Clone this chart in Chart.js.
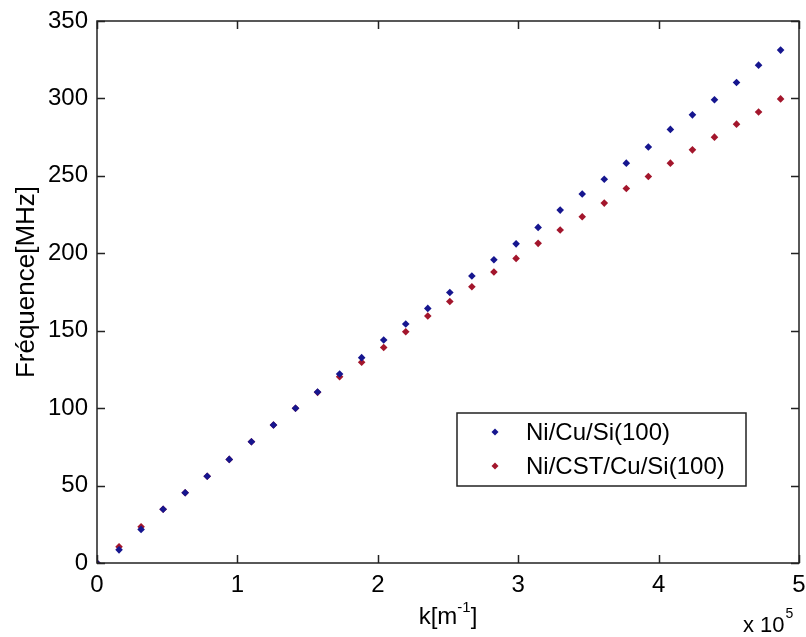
<!DOCTYPE html>
<html>
<head>
<meta charset="utf-8">
<script src="https://cdn.jsdelivr.net/npm/chart.js@4/dist/chart.umd.min.js"></script>
<style>
html,body{margin:0;padding:0;background:#fff;}
#wrap{width:806px;height:637px;position:relative;}
</style>
</head>
<body>
<div id="wrap"><canvas id="c" width="806" height="637"></canvas></div>
<script>
// k values in units of 10^5 m^-1
const kValues = [0, 0.157, 0.314, 0.471, 0.628, 0.785, 0.942, 1.100, 1.257, 1.414, 1.571, 1.728, 1.885, 2.042, 2.199, 2.356, 2.513, 2.670, 2.827, 2.985, 3.142, 3.299, 3.456, 3.613, 3.770, 3.927, 4.084, 4.241, 4.398, 4.555, 4.712, 4.869];
const freqNiCuSi = [0, 8.5, 21.7, 34.7, 45.4, 56.0, 66.9, 78.3, 89.1, 99.9, 110.4, 122.0, 132.6, 144.0, 154.3, 164.4, 174.7, 185.3, 195.8, 206.1, 216.7, 227.9, 238.3, 247.8, 258.2, 268.6, 280.0, 289.4, 299.1, 310.3, 321.5, 331.2];
const freqNiCSTCuSi = [0, 10.5, 23.4, 34.7, 45.4, 56.0, 66.9, 78.3, 89.1, 99.9, 110.2, 120.3, 129.6, 139.2, 149.3, 159.5, 168.9, 178.4, 187.9, 196.7, 206.4, 215.0, 223.6, 232.4, 241.8, 249.6, 258.2, 266.8, 275.0, 283.4, 291.2, 299.7];
const seriesLabels = ['Ni/Cu/Si(100)', 'Ni/CST/Cu/Si(100)'];
const xTickValues = [0, 1, 2, 3, 4, 5];
const yTickValues = [0, 50, 100, 150, 200, 250, 300, 350];

const FONT = 'Arial, "Liberation Sans", Helvetica, sans-serif';
const BLUE = '#16168f';
const RED = '#a3162c';

function toPoints(xs, ys) { return xs.map((x, i) => ({x: x, y: ys[i]})); }

const framePlugin = {
  id: 'frame',
  afterDraw(chart) {
    const ctx = chart.ctx;
    const a = chart.chartArea;
    const xs = chart.scales.x, ys = chart.scales.y;
    ctx.save();
    ctx.strokeStyle = '#222';
    ctx.lineWidth = 1.5;
    ctx.strokeRect(a.left, a.top, a.right - a.left, a.bottom - a.top);
    const TL = 8;
    ctx.beginPath();
    xs.ticks.forEach(t => {
      const p = Math.round(xs.getPixelForValue(t.value)) + 0.5;
      ctx.moveTo(p, a.bottom); ctx.lineTo(p, a.bottom - TL);
      ctx.moveTo(p, a.top); ctx.lineTo(p, a.top + TL);
    });
    ys.ticks.forEach(t => {
      const p = Math.round(ys.getPixelForValue(t.value)) + 0.5;
      ctx.moveTo(a.left, p); ctx.lineTo(a.left + TL, p);
      ctx.moveTo(a.right, p); ctx.lineTo(a.right - TL, p);
    });
    ctx.stroke();

    // axis titles
    ctx.fillStyle = '#000';
    ctx.textBaseline = 'alphabetic';
    const cx = (a.left + a.right) / 2;
    const p1 = 'k[m', sup = '-1', p2 = ']';
    ctx.font = '24px ' + FONT; const w1 = ctx.measureText(p1).width;
    ctx.font = '15px ' + FONT; const ws = ctx.measureText(sup).width;
    ctx.font = '24px ' + FONT; const w2 = ctx.measureText(p2).width;
    let x0 = cx - (w1 + ws + w2) / 2;
    const yb = 624;
    ctx.textAlign = 'left';
    ctx.font = '24px ' + FONT; ctx.fillText(p1, x0, yb);
    ctx.font = '15px ' + FONT; ctx.fillText(sup, x0 + w1, yb - 12);
    ctx.font = '24px ' + FONT; ctx.fillText(p2, x0 + w1 + ws, yb);

    // x 10^5
    ctx.font = '22px ' + FONT;
    ctx.fillText('x 10', 743, 632);
    const wx = ctx.measureText('x 10').width;
    ctx.font = '14px ' + FONT;
    ctx.fillText('5', 743 + wx + 1, 618);

    // y title
    ctx.save();
    ctx.translate(34, 282);
    ctx.rotate(-Math.PI / 2);
    ctx.textAlign = 'center';
    ctx.font = '26px ' + FONT;
    ctx.fillText('Fréquence[MHz]', 0, 0);
    ctx.restore();

    // legend box
    const lx = 457, ly = 413, lw = 289, lh = 73;
    ctx.fillStyle = '#fff';
    ctx.fillRect(lx, ly, lw, lh);
    ctx.strokeStyle = '#222';
    ctx.lineWidth = 1.5;
    ctx.strokeRect(lx, ly, lw, lh);
    const rows = [432, 466];
    chart.data.datasets.forEach((ds, i) => {
      const yy = rows[i];
      ctx.fillStyle = ds.backgroundColor;
      ctx.beginPath();
      ctx.moveTo(495, yy - 3.5); ctx.lineTo(498.5, yy); ctx.lineTo(495, yy + 3.5); ctx.lineTo(491.5, yy);
      ctx.closePath(); ctx.fill();
      ctx.fillStyle = '#000';
      ctx.font = '24px ' + FONT;
      ctx.textAlign = 'left';
      ctx.textBaseline = 'middle';
      ctx.fillText(ds.label, 526, yy + 1);
    });
    ctx.restore();
  }
};

new Chart(document.getElementById('c'), {
  type: 'scatter',
  data: {
    datasets: [
      {label: seriesLabels[0], data: toPoints(kValues, freqNiCuSi), backgroundColor: BLUE, borderColor: BLUE,
       pointStyle: 'rectRot', pointRadius: 3.8, borderWidth: 0},
      {label: seriesLabels[1], data: toPoints(kValues, freqNiCSTCuSi), backgroundColor: RED, borderColor: RED,
       pointStyle: 'rectRot', pointRadius: 3.8, borderWidth: 0}
    ]
  },
  options: {
    responsive: false,
    animation: false,
    layout: {padding: {top: 21, right: 7, left: 0, bottom: 0}},
    plugins: {legend: {display: false}, tooltip: {enabled: false}},
    scales: {
      x: {
        type: 'linear', min: 0, max: 5,
        afterBuildTicks: s => { s.ticks = xTickValues.map(v => ({value: v})); },
        afterFit: s => { s.height = 74; s.paddingLeft = 0; s.paddingRight = 0; },
        grid: {display: false, drawTicks: false},
        border: {display: false},
        ticks: {color: '#000', font: {size: 24, family: FONT}, padding: 8, maxRotation: 0}
      },
      y: {
        type: 'linear', min: 0, max: 350,
        afterBuildTicks: s => { s.ticks = yTickValues.map(v => ({value: v})); },
        afterFit: s => { s.width = 97; s.paddingTop = 0; s.paddingBottom = 0; },
        grid: {display: false, drawTicks: false},
        border: {display: false},
        ticks: {color: '#000', font: {size: 24, family: FONT}, padding: 9}
      }
    }
  },
  plugins: [framePlugin]
});
</script>
</body>
</html>
